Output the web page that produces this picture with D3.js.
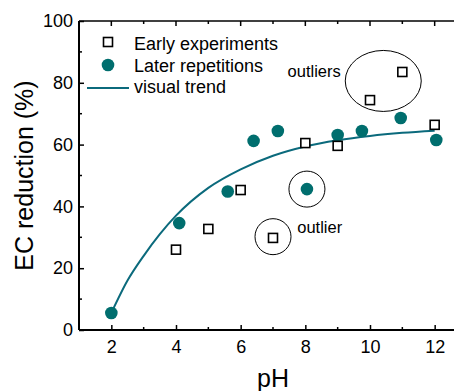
<!DOCTYPE html>
<html>
<head>
<meta charset="utf-8">
<script src="https://cdn.jsdelivr.net/npm/d3@7"></script>
<style>
  body { margin: 0; background: #fff; }
  text { font-family: "Liberation Sans", Arial, sans-serif; }
</style>
</head>
<body>
<svg id="chart" width="454" height="391"></svg>
<script>
// early experiments (open squares)
var earlyPH = [4, 5, 6, 7, 8, 9, 10, 11, 12];
var earlyEC = [26, 32.7, 45.3, 29.8, 60.5, 59.6, 74.4, 83.5, 66.4];
// later repetitions (filled circles)
var laterPH = [2, 4.1, 5.6, 6.4, 7.15, 8.05, 9, 9.75, 10.95, 12.05];
var laterEC = [5.5, 34.6, 44.8, 61.2, 64.4, 45.6, 63.1, 64.4, 68.6, 61.5];
// visual trend line
var trendPH = [2, 2.5, 3, 3.5, 4, 5, 6, 7, 8, 9, 10, 11, 12];
var trendEC = [5.5, 16, 24, 31, 37, 46, 52, 56.4, 59.4, 61.4, 62.8, 63.8, 64.5];
// tick labels
var xTicks = [2, 4, 6, 8, 10, 12];
var yTicks = [0, 20, 40, 60, 80, 100];

var svg = d3.select("#chart"),
  margin = {top: 21, right: 0, bottom: 61, left: 79},
  width = 388,
  height = +svg.attr("height") - margin.top - margin.bottom;

var teal = "#006e6e", lineCol = "#0b6a7c";

var x = d3.scaleLinear().domain([1, 13]).range([0, width]),
  y = d3.scaleLinear().domain([0, 100]).range([height, 0]);

var g = svg.append("g")
  .attr("transform", "translate(" + margin.left + "," + margin.top + ")");

// frame (top border)
g.append("line").attr("x1", 0).attr("x2", width).attr("y1", 0).attr("y2", 0)
  .attr("stroke", "#000").attr("stroke-width", 1.5);

// minor ticks
var minorX = [1, 3, 5, 7, 9, 11, 13];
var minorY = [10, 30, 50, 70, 90];
g.selectAll(".mxb").data(minorX).enter().append("line")
  .attr("x1", function(d) { return x(d); }).attr("x2", function(d) { return x(d); })
  .attr("y1", height).attr("y2", height - 3).attr("stroke", "#000").attr("stroke-width", 1.5);
g.selectAll(".mxt").data(minorX).enter().append("line")
  .attr("x1", function(d) { return x(d); }).attr("x2", function(d) { return x(d); })
  .attr("y1", 0).attr("y2", 3).attr("stroke", "#000").attr("stroke-width", 1.5);
g.selectAll(".myl").data(minorY).enter().append("line")
  .attr("y1", function(d) { return y(d); }).attr("y2", function(d) { return y(d); })
  .attr("x1", 0).attr("x2", 3).attr("stroke", "#000").attr("stroke-width", 1.5);

// major ticks on top
g.selectAll(".Mxt").data(xTicks).enter().append("line")
  .attr("x1", function(d) { return x(d); }).attr("x2", function(d) { return x(d); })
  .attr("y1", 0).attr("y2", 5).attr("stroke", "#000").attr("stroke-width", 1.5);

var xAxis = g.append("g")
  .attr("transform", "translate(0," + height + ")")
  .call(d3.axisBottom(x).tickValues(xTicks).tickSize(-5).tickPadding(10));
var yAxis = g.append("g")
  .call(d3.axisLeft(y).tickValues(yTicks).tickSize(-5).tickPadding(6));

[xAxis, yAxis].forEach(function(a) {
  a.select(".domain").attr("stroke-width", 2);
  a.selectAll(".tick line").attr("stroke-width", 1.5);
  a.selectAll(".tick text").attr("font-size", 18).attr("fill", "#000")
    .style("font-family", "Liberation Sans, Arial, sans-serif");
});
xAxis.select(".domain").attr("d", "M0,0H" + width);
yAxis.select(".domain").attr("d", "M0," + height + "V0");

// axis titles
svg.append("text")
  .attr("x", margin.left + width / 2).attr("y", 387)
  .attr("text-anchor", "middle").attr("font-size", 25).text("pH");
svg.append("text")
  .attr("transform", "translate(33," + (margin.top + height / 2) + ") rotate(-90)")
  .attr("text-anchor", "middle").attr("font-size", 25).text("EC reduction (%)");

// trend line
var trend = trendPH.map(function(d, i) { return [d, trendEC[i]]; });
g.append("path")
  .datum(trend)
  .attr("fill", "none").attr("stroke", lineCol).attr("stroke-width", 2)
  .attr("d", d3.line().x(function(d) { return x(d[0]); }).y(function(d) { return y(d[1]); })
    .curve(d3.curveMonotoneX));

// later repetitions
g.selectAll(".later").data(laterPH).enter().append("circle")
  .attr("cx", function(d) { return x(d); })
  .attr("cy", function(d, i) { return y(laterEC[i]); })
  .attr("r", 6.3).attr("fill", teal);

// early experiments
var sq = 9;
g.selectAll(".early").data(earlyPH).enter().append("rect")
  .attr("x", function(d) { return x(d) - sq / 2; })
  .attr("y", function(d, i) { return y(earlyEC[i]) - sq / 2; })
  .attr("width", sq).attr("height", sq)
  .attr("fill", "#fff").attr("stroke", "#000").attr("stroke-width", 1.6);

// outlier annotations
g.append("ellipse")
  .attr("cx", x(10.41)).attr("cy", y(80.6)).attr("rx", 38).attr("ry", 30.5)
  .attr("fill", "none").attr("stroke", "#000").attr("stroke-width", 1);
g.append("circle")
  .attr("cx", x(8.05)).attr("cy", y(45.6)).attr("r", 18)
  .attr("fill", "none").attr("stroke", "#000").attr("stroke-width", 1);
g.append("circle")
  .attr("cx", x(7)).attr("cy", y(30.2)).attr("r", 18)
  .attr("fill", "none").attr("stroke", "#000").attr("stroke-width", 1);
g.append("text").attr("x", x(7.45)).attr("y", y(82)).attr("font-size", 16.5).text("outliers");
g.append("text").attr("x", x(7.75)).attr("y", y(31.5)).attr("font-size", 16.5).text("outlier");

// legend
var lg = svg.append("g");
lg.append("rect").attr("x", 108 - sq / 2).attr("y", 42 - sq / 2).attr("width", sq).attr("height", sq)
  .attr("fill", "#fff").attr("stroke", "#000").attr("stroke-width", 1.6);
lg.append("circle").attr("cx", 108).attr("cy", 65).attr("r", 6.3).attr("fill", teal);
lg.append("line").attr("x1", 87).attr("x2", 129).attr("y1", 88).attr("y2", 88)
  .attr("stroke", lineCol).attr("stroke-width", 2);
var labels = ["Early experiments", "Later repetitions", "visual trend"];
lg.selectAll(".lt").data(labels).enter().append("text")
  .attr("x", 134).attr("y", function(d, i) { return 50 + i * 21.5; })
  .attr("font-size", 18).text(function(d) { return d; });
</script>
</body>
</html>
